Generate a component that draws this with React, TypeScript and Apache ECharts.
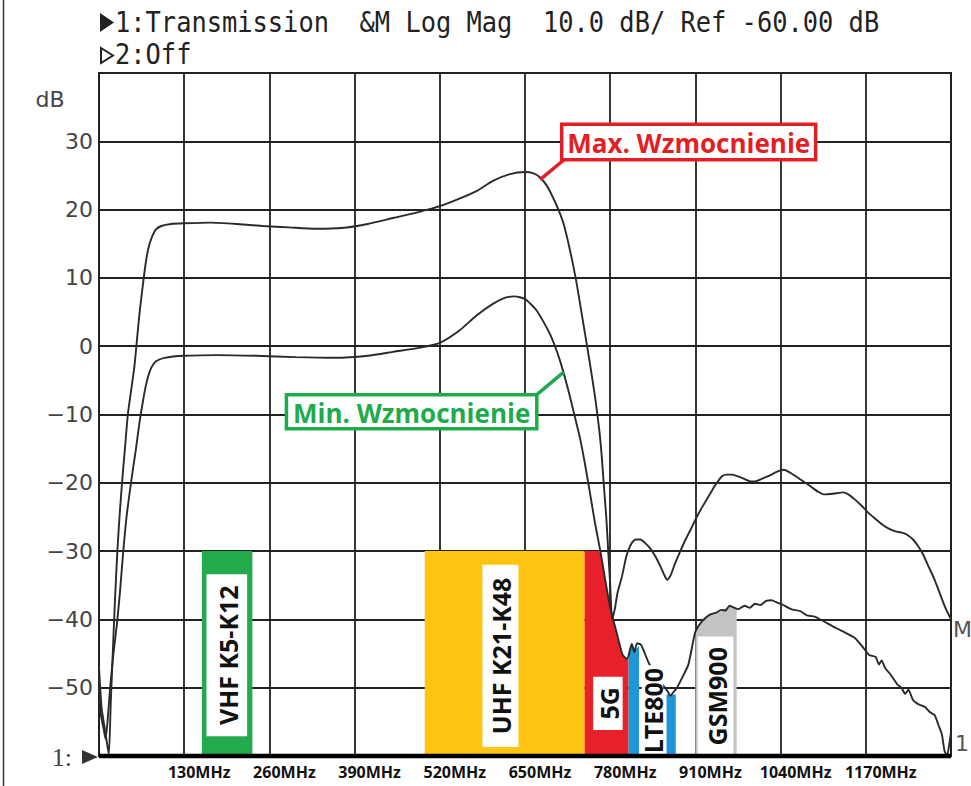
import React, { useEffect, useRef } from "react";
import * as echarts from "echarts";

// ---- tick labels ----
const xTicks = [130, 260, 390, 520, 650, 780, 910, 1040, 1170];
const yTicks = [30, 20, 10, 0, -10, -20, -30, -40, -50];

// ---- measured traces (MHz, dB) ----
const maxGain: number[][] = [
  [0, -47], [4, -53], [8, -55.5], [12, -58], [15, -59.8], [18, -52], [21, -45], [24, -38], [28, -30],
  [32, -24], [36, -19], [40, -14.5], [44, -10], [49, -6.5], [54, -3], [58, 1], [62, 5], [67, 9],
  [71, 12], [75, 14.2], [80, 15.8], [87, 17.1], [95, 17.6], [110, 17.9], [130, 18.0], [170, 18.1],
  [210, 17.9], [250, 17.6], [290, 17.4], [330, 17.2], [370, 17.3], [410, 17.9], [450, 18.8],
  [490, 19.7], [520, 20.5], [550, 21.6], [576, 22.7], [601, 24.2], [627, 25.2], [650, 25.5],
  [663, 25.3], [673, 24.7], [684, 23.4], [693, 21.7], [701, 20], [709, 17.9], [715, 15.6],
  [721, 13], [729, 9.1], [739, 3.3], [749, -2.5], [757, -7.5], [763, -12], [767, -16], [770, -20],
  [774, -25], [777, -30], [780, -35], [783, -40], [787, -38.5], [791, -36.2], [798, -33.7],
  [804, -31], [808, -29.8], [813, -28.8], [819, -28.3], [826, -28.3], [833, -28.8], [841, -29.6],
  [849, -30.8], [857, -32.3], [862, -33.4], [867, -34.2], [872, -33.6], [879, -31.8], [887, -30],
  [895, -28.3], [903, -26.8], [910, -25.4], [920, -23.6], [930, -22], [940, -20.4], [951, -19],
  [958, -18.8], [966, -18.8], [976, -19.1], [986, -19.5], [994, -19.8], [1001, -19.8],
  [1012, -19.4], [1022, -19], [1034, -18.4], [1045, -18.1], [1056, -18.6], [1067, -19.3],
  [1078, -20], [1088, -20.7], [1097, -21.3], [1106, -21.7], [1120, -21.6], [1136, -21.4],
  [1145, -21.8], [1154, -22.5], [1164, -23.4], [1174, -24.4], [1185, -25.3], [1195, -26.1],
  [1205, -26.7], [1215, -27.1], [1225, -27.3], [1233, -27.6], [1242, -28.3], [1250, -29.3],
  [1258, -30.6], [1266, -32.3], [1275, -34.2], [1283, -36.2], [1291, -38.2], [1300, -40],
];

const minGain: number[][] = [
  [0, -50], [3, -54], [7, -56], [10, -57.5], [13, -55], [17, -50], [22, -45], [27, -41], [32, -36],
  [37, -30], [42, -25], [46, -22], [51, -18.5], [56, -15.3], [62, -11], [67, -8.1], [71, -6],
  [75, -4.4], [80, -3.1], [87, -2.2], [100, -1.7], [130, -1.4], [180, -1.3], [240, -1.4],
  [300, -1.6], [360, -1.7], [410, -1.4], [450, -0.8], [490, -0.2], [520, 0.5], [550, 2.3],
  [576, 4.5], [601, 6.2], [620, 7.1], [634, 7.3], [650, 6.9], [668, 5.2], [688, 1.8], [703, -2],
  [716, -6.4], [726, -10.3], [734, -13.5], [742, -17.5], [750, -22], [757, -26], [765, -30],
  [772, -34], [780, -38.3], [790, -42], [799, -45.2], [806, -45.8], [810, -44.5], [813, -43.6],
  [817, -44.8], [821, -43.5], [827, -43.7], [838, -46.2], [850, -48.5], [860, -49.6],
  [868, -50.6], [872, -51.2], [876, -50.7], [882, -50], [890, -48.5], [899, -46.7], [905, -44],
  [910, -41.8], [920, -40.3], [932, -39.3], [942, -39], [949, -38.6], [956, -38.7], [962, -38],
  [975, -38.5], [985, -38], [993, -38.3], [1001, -37.7], [1009, -37.9], [1018, -37.3],
  [1026, -37.2], [1034, -37.5], [1042, -37.8], [1056, -38.5], [1070, -38.8], [1080, -39.4],
  [1092, -39.6], [1110, -40.5], [1125, -41.3], [1140, -42], [1153, -42.7], [1165, -44],
  [1175, -45.2], [1185, -45.5], [1190, -46.6], [1194, -46], [1200, -47.2], [1208, -48.1],
  [1218, -49.5], [1225, -50.1], [1230, -50.9], [1235, -50.3], [1242, -51.8], [1250, -52.4],
  [1260, -52.8], [1268, -53.6], [1275, -54], [1281, -55.5], [1286, -56.8], [1290, -59.2],
  [1294, -60], [1297, -58.5], [1300, -56.5],
];

// ---- frequency bands (MHz, top dB) ----
const bandVHF = [[157, -30], [234, -30]];
const bandUHF = [[497, -30], [741, -30]];
const band5G = [[741, -30], [765, -30], [772, -34], [780, -38.3], [790, -42], [799, -45.2], [806, -45.8], [808, -46]];
const bandLTE800a = [[808, -45.2], [813, -43.7], [818.6, -44.4], [824, -43.9]];
const bandLTE800b = [[866, -51], [880, -51]];
const bandGSM900 = [[910, -41.8], [920, -40.5], [932, -39.3], [949, -38.6], [962, -38.1], [973, -38.3]];

// ---- band label texts and extents (MHz from, dB top, MHz to, dB bottom) ----
const bandLabelTexts = ["VHF K5-K12", "UHF K21-K48", "5G", "LTE800", "GSM900"];
const bandLabelExtents = [
  [164, -33.4, 226, -57.1],
  [585, -32, 640, -58.7],
  [754, -48.4, 799, -56.2],
  [828, -46.7, 861, -60],
  [913.5, -42.5, 968, -60],
];

// ---- callouts ----
const calloutTexts = ["Max. Wzmocnienie", "Min. Wzmocnienie"];
const calloutExtents = [
  // box f0, dB0, f1, dB1, pointer start f, dB, pointer end f, dB
  [706, 32.5, 1093.5, 27.3, 709.6, 27.3, 673, 24.4],
  [286, -7.1, 668, -12.1, 668, -7.1, 709, -3.8],
];
const calloutColors = ["#E31E24", "#1DAB4C"];

const COLORS = {
  vhf: "#22AA4C",
  uhf: "#FDC512",
  g5: "#E8202A",
  lte: "#1E96D8",
  gsm: "#C4C4C4",
  trace: "#2a2a2a",
  grid: "#222222",
};

function bandSeries(data: number[][], color: string) {
  return {
    type: "line",
    data,
    symbol: "none",
    silent: true,
    z: 2,
    lineStyle: { width: 0, color },
    areaStyle: { color, opacity: 1, origin: "start" },
  };
}

export default function App() {
  const ref = useRef<HTMLDivElement>(null);

  useEffect(() => {
    if (!ref.current) return;
    const chart = echarts.init(ref.current, undefined, { renderer: "svg" });

    const monoFont = '28px "DejaVu Sans Mono"';

    chart.setOption({
      animation: false,
      backgroundColor: "#ffffff",
      grid: {
        left: 99,
        right: 20,
        top: 73,
        bottom: 30,
        show: true,
        borderColor: COLORS.grid,
        borderWidth: 2,
        backgroundColor: "transparent",
      },
      xAxis: {
        type: "value",
        min: 0,
        max: 1300,
        interval: 130,
        axisLine: { show: false },
        axisTick: { show: false },
        splitLine: { show: true, lineStyle: { color: COLORS.grid, width: 1.8 } },
        axisLabel: {
          show: true,
          margin: 8,
          color: "#111",
          fontFamily: "Open Sans",
          fontWeight: "bold",
          fontSize: 16,
          lineHeight: 16,
          padding: [0, 0, 0, 30],
          showMinLabel: false,
          showMaxLabel: false,
          formatter: (v: number) => (xTicks.includes(v) ? `${v}MHz` : ""),
        },
      },
      yAxis: {
        type: "value",
        min: -60,
        max: 40,
        interval: 10,
        axisLine: { show: false },
        axisTick: { show: false },
        splitLine: { show: true, lineStyle: { color: COLORS.grid, width: 1.8 } },
        axisLabel: {
          show: true,
          margin: 6,
          color: "#444",
          fontFamily: "DejaVu Sans",
          fontSize: 22,
          formatter: (v: number) =>
            yTicks.includes(v) ? (v < 0 ? "\u2212" + Math.abs(v) : String(v)) : "",
        },
      },
      series: [
        bandSeries(bandVHF, COLORS.vhf),
        bandSeries(bandUHF, COLORS.uhf),
        bandSeries(band5G, COLORS.g5),
        bandSeries(bandLTE800a, COLORS.lte),
        bandSeries(bandLTE800b, COLORS.lte),
        bandSeries(bandGSM900, COLORS.gsm),
        {
          type: "line",
          name: "Max",
          data: maxGain,
          symbol: "none",
          smooth: 0.2,
          z: 3,
          lineStyle: { color: COLORS.trace, width: 1.9 },
        },
        {
          type: "line",
          name: "Min",
          data: minGain,
          symbol: "none",
          smooth: 0.2,
          z: 3,
          lineStyle: { color: COLORS.trace, width: 1.9 },
        },
        {
          type: "custom",
          z: 4,
          silent: true,
          clip: false,
          data: bandLabelExtents,
          renderItem: (params: any, api: any) => {
            const i = params.dataIndex;
            const p0 = api.coord([api.value(0), api.value(1)]);
            const p1 = api.coord([api.value(2), api.value(3)]);
            return {
              type: "group",
              children: [
                {
                  type: "rect",
                  shape: { x: p0[0], y: p0[1], width: p1[0] - p0[0], height: p1[1] - p0[1] },
                  style: { fill: "#ffffff" },
                },
                {
                  type: "text",
                  x: (p0[0] + p1[0]) / 2 + 1,
                  y: (p0[1] + p1[1]) / 2,
                  rotation: Math.PI / 2,
                  style: {
                    text: bandLabelTexts[i],
                    fill: "#111",
                    fontSize: 25,
                    fontWeight: "bold",
                    fontFamily: "Open Sans",
                    align: "center",
                    verticalAlign: "middle",
                  },
                },
              ],
            };
          },
        },
        {
          type: "line",
          data: [[0, -60], [1300, -60]],
          symbol: "none",
          silent: true,
          clip: false,
          z: 5,
          lineStyle: { color: "#000", width: 4.5 },
        },
        {
          type: "custom",
          z: 6,
          silent: true,
          clip: false,
          data: calloutExtents,
          renderItem: (params: any, api: any) => {
            const i = params.dataIndex;
            const p0 = api.coord([api.value(0), api.value(1)]);
            const p1 = api.coord([api.value(2), api.value(3)]);
            const a = api.coord([api.value(4), api.value(5)]);
            const b = api.coord([api.value(6), api.value(7)]);
            const c = calloutColors[i];
            return {
              type: "group",
              children: [
                {
                  type: "line",
                  shape: { x1: a[0], y1: a[1], x2: b[0], y2: b[1] },
                  style: { stroke: c, lineWidth: 3.5 },
                },
                {
                  type: "rect",
                  shape: { x: p0[0], y: p0[1], width: p1[0] - p0[0], height: p1[1] - p0[1] },
                  style: { fill: "#ffffff", stroke: c, lineWidth: 3.5 },
                },
                {
                  type: "text",
                  x: (p0[0] + p1[0]) / 2,
                  y: (p0[1] + p1[1]) / 2 + 1,
                  style: {
                    text: calloutTexts[i],
                    fill: c,
                    fontSize: 26,
                    fontWeight: "bold",
                    fontFamily: "Open Sans",
                    align: "center",
                    verticalAlign: "middle",
                  },
                },
              ],
            };
          },
        },
      ],
      graphic: [
        // left scan border
        { type: "line", shape: { x1: 3.5, y1: 0, x2: 3.5, y2: 786 }, style: { stroke: "#333", lineWidth: 1.5 } },
        // header line 1
        { type: "polygon", shape: { points: [[100, 13], [114, 22.5], [100, 32]] }, style: { fill: "#222" } },
        {
          type: "text",
          x: 115,
          y: 22.5,
          scaleX: 0.907,
          style: {
            text: "1:Transmission  &M Log Mag  10.0 dB/ Ref -60.00 dB",
            font: monoFont,
            fill: "#222",
            align: "left",
            verticalAlign: "middle",
          },
        },
        // header line 2
        {
          type: "polygon",
          shape: { points: [[101, 48], [113, 55.5], [101, 63]] },
          style: { fill: "none", stroke: "#222", lineWidth: 2 },
        },
        {
          type: "text",
          x: 115,
          y: 54.5,
          scaleX: 0.907,
          style: { text: "2:Off", font: monoFont, fill: "#222", align: "left", verticalAlign: "middle" },
        },
        // unit
        {
          type: "text",
          x: 50,
          y: 99,
          style: { text: "dB", font: '22px "DejaVu Sans"', fill: "#444", align: "center", verticalAlign: "middle" },
        },
        // channel marker at bottom-left
        {
          type: "text",
          x: 72,
          y: 757,
          style: { text: "1:", font: '26px "Liberation Serif"', fill: "#444", align: "right", verticalAlign: "middle" },
        },
        { type: "polygon", shape: { points: [[82, 750], [98, 757], [82, 764]] }, style: { fill: "#333" } },
        // right edge markers
        {
          type: "text",
          x: 953,
          y: 629,
          style: { text: "M", font: '22px "DejaVu Sans"', fill: "#555", align: "left", verticalAlign: "middle" },
        },
        {
          type: "text",
          x: 955,
          y: 743,
          style: { text: "1", font: '22px "DejaVu Sans"', fill: "#555", align: "left", verticalAlign: "middle" },
        },
      ],
    });

    return () => chart.dispose();
  }, []);

  return (
    <div
      ref={ref}
      style={{ position: "absolute", left: 0, top: 0, width: 971, height: 786, background: "#fff" }}
    />
  );
}
